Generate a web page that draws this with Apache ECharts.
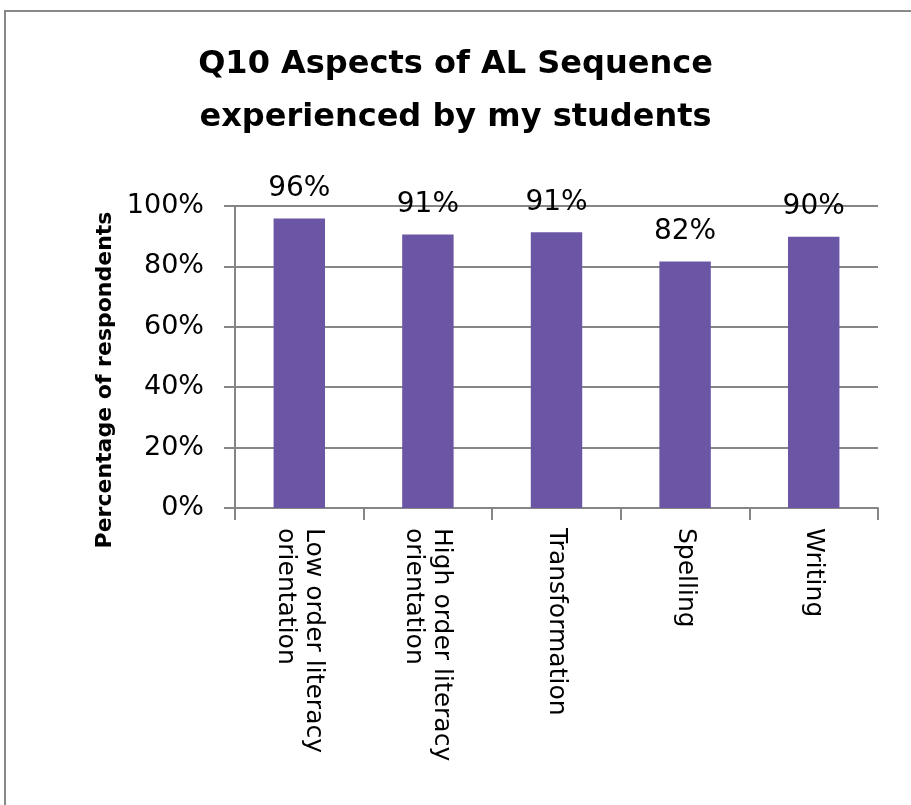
<!DOCTYPE html>
<html>
<head>
<meta charset="utf-8">
<title>Q10 Aspects of AL Sequence</title>
<script src="https://cdn.jsdelivr.net/npm/echarts@6/dist/echarts.min.js"></script>
<style>
  html, body { margin: 0; padding: 0; background: #fff; }
  #main { width: 911px; height: 805px; }
</style>
</head>
<body>
<div id="main"></div>
<script>
// categories on the x axis (wrapped the same way as the original)
var categories = [
  'Low order literacy\norientation',
  'High order literacy\norientation',
  'Transformation',
  'Spelling',
  'Writing'
]
// percentage of respondents
var values = [95.9, 90.6, 91.3, 81.6, 89.8]
// y axis ticks
var yMin = 0
var yMax = 100
var yStep = 20

var FONT = 'DejaVu Sans'
var GREY = '#868686'

var chart = echarts.init(document.getElementById('main'))

chart.setOption({
  animation: false,
  backgroundColor: '#fff',
  // frame round the chart, cut off on the right and bottom like the scan
  graphic: [
    {
      type: 'rect',
      z: -1,
      shape: { x: 5, y: 11, width: 1000, height: 1000 },
      style: { fill: 'none', stroke: '#888', lineWidth: 2 }
    }
  ],
  title: {
    text: 'Q10 Aspects of AL Sequence\nexperienced by my students',
    left: 'center',
    top: 38,
    padding: [0, 0, 0, 18],
    textStyle: {
      fontFamily: FONT,
      fontSize: 32,
      fontWeight: 'bold',
      lineHeight: 53,
      color: '#000'
    }
  },
  grid: {
    left: 235,
    right: 33,
    top: 206,
    bottom: 297
  },
  xAxis: {
    type: 'category',
    data: categories,
    axisLine: { lineStyle: { color: GREY, width: 2 } },
    axisTick: { show: true, length: 12, lineStyle: { color: GREY, width: 2 } },
    axisLabel: {
      interval: 0,
      rotate: -90,
      margin: 20,
      fontFamily: FONT,
      fontSize: 25,
      lineHeight: 28,
      color: '#000'
    }
  },
  yAxis: {
    type: 'value',
    min: yMin,
    max: yMax,
    interval: yStep,
    name: 'Percentage of respondents',
    nameLocation: 'middle',
    nameRotate: 90,
    nameGap: 111,
    nameTextStyle: {
      fontFamily: FONT,
      fontSize: 22,
      fontWeight: 'bold',
      color: '#000',
      padding: [0, 46, 0, 0]
    },
    axisLine: { show: true, lineStyle: { color: GREY, width: 2 } },
    axisTick: { show: true, length: 11, lineStyle: { color: GREY, width: 2 } },
    axisLabel: {
      formatter: '{value}%',
      margin: 31,
      fontFamily: FONT,
      fontSize: 27,
      color: '#000'
    },
    splitLine: { lineStyle: { color: GREY, width: 2 } }
  },
  series: [
    {
      name: 'Q10',
      type: 'bar',
      data: values,
      barWidth: '40%',
      itemStyle: { color: '#6b56a5' },
      label: {
        show: true,
        position: 'top',
        distance: 16,
        fontFamily: FONT,
        fontSize: 28,
        color: '#000',
        formatter: function (p) {
          return Math.round(p.value) + '%'
        }
      }
    }
  ]
})
</script>
</body>
</html>
